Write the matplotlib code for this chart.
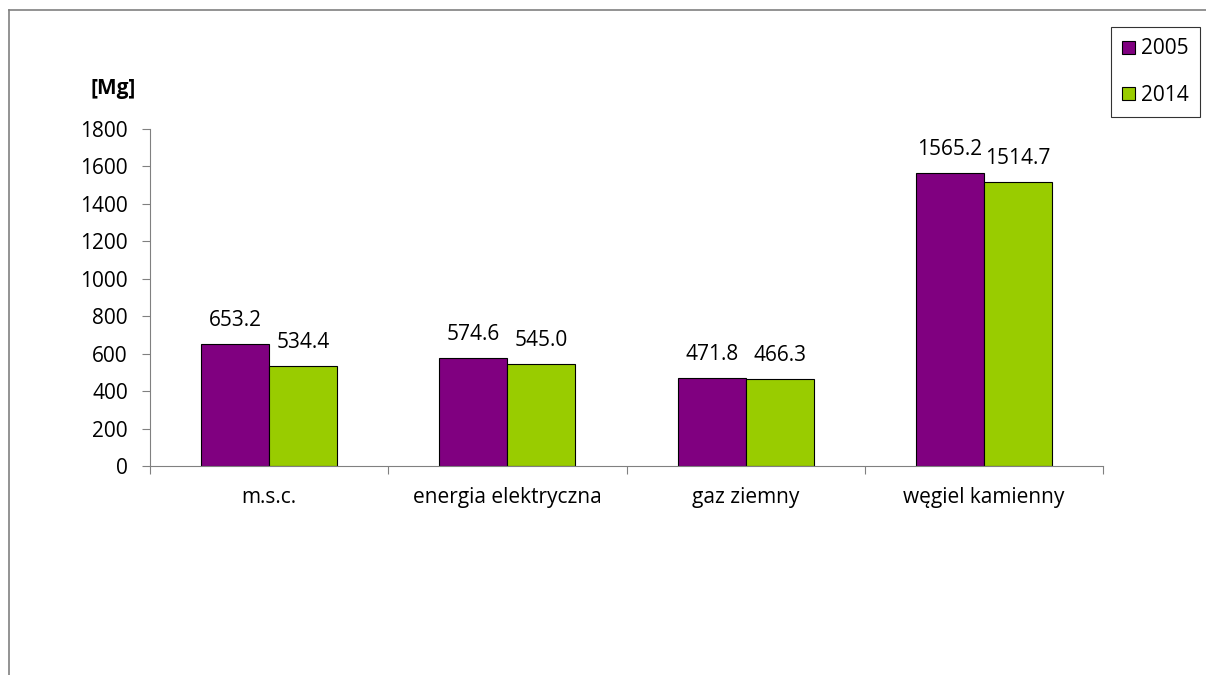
import matplotlib.pyplot as plt
import numpy as np
from matplotlib.lines import Line2D

plt.rcParams['font.family'] = ['Open Sans', 'DejaVu Sans']

kategorie = ['m.s.c.', 'energia elektryczna', 'gaz ziemny', 'węgiel kamienny']
emisja_2005 = [653.2, 574.6, 471.8, 1565.2]
emisja_2014 = [534.4, 545.0, 466.3, 1514.7]
lata = ['2005', '2014']
kolory = ['#800080', '#99CC00']

fs = 15

fig = plt.figure(figsize=(12.06, 6.75), dpi=100)
ax = fig.add_axes([0.1244, 0.3096, 0.7902, 0.4993])

x = np.arange(len(kategorie))
w = 0.285
serie = [emisja_2005, emisja_2014]
for i, (vals, kol, rok) in enumerate(zip(serie, kolory, lata)):
    pos = x + (i - 0.5) * w
    ax.bar(pos, vals, width=w, color=kol, edgecolor='black', linewidth=0.8, label=rok)
    for p, v in zip(pos, vals):
        ax.annotate(f'{v:.1f}', (p, v), xytext=(0, 17), textcoords='offset points',
                    ha='center', va='center', fontsize=fs)

ax.set_xlim(-0.5, len(kategorie) - 0.5)
ax.set_ylim(0, 1800)
ax.set_yticks(np.arange(0, 1801, 200))
ax.set_xticks(np.arange(-0.5, len(kategorie), 1))
ax.set_xticklabels([])
ax.set_xticks(x, minor=True)
ax.set_xticklabels(kategorie, minor=True, fontsize=fs)
ax.tick_params(axis='x', which='major', direction='out', length=6, color='#808080')
ax.tick_params(axis='x', which='minor', length=0, pad=15)
ax.tick_params(axis='y', direction='out', length=6, color='#808080', labelsize=fs, pad=10)

for s in ['top', 'right']:
    ax.spines[s].set_visible(False)
for s in ['left', 'bottom']:
    ax.spines[s].set_color('#808080')

fig.text(0.0937, 0.8696, '[Mg]', fontsize=fs, fontweight='bold', ha='center', va='center')

leg = ax.legend(loc='upper left', bbox_to_anchor=(1111 / 1206, 1 - 27 / 675),
                bbox_transform=fig.transFigure, borderaxespad=0,
                frameon=True, fancybox=False, edgecolor='black', fontsize=fs,
                handlelength=0.6, handleheight=0.6, handletextpad=0.3,
                labelspacing=1.22, borderpad=0.55)
leg.get_frame().set_linewidth(0.8)

# ramka wykresu
fig.add_artist(Line2D([8.5 / 1206, 8.5 / 1206], [0, 1 - 10 / 675], transform=fig.transFigure,
                      color='#808080', linewidth=1.2))
fig.add_artist(Line2D([8.5 / 1206, 1], [1 - 10 / 675, 1 - 10 / 675], transform=fig.transFigure,
                      color='#808080', linewidth=1.2))

plt.savefig('out.png', dpi=100)
plt.close()
